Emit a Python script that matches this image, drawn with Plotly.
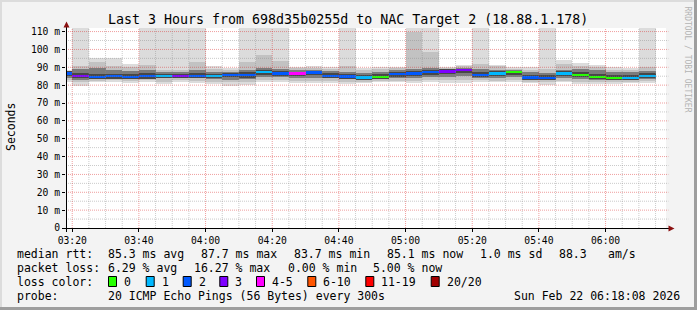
import plotly.graph_objects as go
import pandas as pd

# ---------------- data ----------------
col_ends = pd.date_range("2026-02-22 03:20", periods=36, freq="5min")
median = [86.5, 85.2, 84.5, 85.0, 84.5, 85.0, 85.2, 85.2, 85.2, 85.2, 85.8, 85.8,
          87.2, 86.5, 86.5, 87.0, 85.2, 84.8, 84.2, 84.7, 86.1, 86.5, 87.2, 87.7,
          88.4, 85.8, 86.6, 87.2, 84.3, 84.1, 86.5, 85.8, 84.7, 84.1, 84.1, 85.3]
loss = [2, 3, 2, 2, 2, 2, 1, 3, 2, 1, 2, 2, 1, 2, 4, 2, 2, 2, 1, 0, 2, 2, 2, 3,
        3, 2, 1, 0, 2, 2, 1, 0, 0, 0, 1, 1]
ping_min = [82.0, 79.5, 81.5, 82.0, 81.0, 81.5, 80.5, 81.5, 81.0, 80.5, 79.5, 80.0,
            81.5, 81.5, 81.0, 81.0, 81.0, 80.5, 81.0, 81.5, 81.5, 81.0, 81.5, 81.0,
            81.0, 82.0, 81.5, 82.0, 81.0, 80.0, 81.5, 80.5, 80.5, 80.5, 81.0, 81.0]
ping_max = [88.5, 115, 95.0, 95.0, 92.0, 115, 115, 115, 115, 90.8, 89.8, 115,
            115, 115, 90.4, 90.8, 90.0, 115, 89.5, 90.0, 90.4, 115, 115, 90.4,
            91.2, 115, 91.5, 90.0, 90.0, 115, 94.3, 92.5, 91.3, 90.2, 89.5, 115]
band2_lo = [83.0, 81.5, 82.5, 83.0, 82.5, 83.0, 82.0, 83.0, 82.5, 82.0, 81.5, 82.0,
            83.0, 83.0, 82.5, 82.5, 82.5, 82.0, 82.0, 82.5, 82.5, 82.5, 83.0, 83.0,
            83.0, 83.0, 82.5, 83.0, 82.0, 81.5, 82.5, 82.0, 82.0, 82.0, 82.0, 82.5]
band2_hi = [88.0, 91.0, 93.0, 91.0, 90.0, 91.3, 88.5, 88.5, 93.2, 89.0, 88.5, 93.2,
            96.9, 93.6, 89.5, 89.5, 89.0, 90.5, 88.5, 89.0, 89.5, 109.5, 98.8, 89.5,
            90.5, 91.8, 90.5, 89.0, 88.5, 89.0, 92.0, 91.0, 90.0, 88.5, 88.5, 90.0]
band3_lo = [84.0, 83.0, 83.5, 84.0, 83.5, 84.0, 84.0, 84.0, 84.0, 83.5, 83.0, 83.5,
            84.5, 84.5, 84.0, 84.0, 84.0, 83.5, 83.0, 83.5, 84.0, 84.0, 84.5, 84.5,
            85.0, 84.0, 84.0, 84.5, 83.0, 83.0, 84.0, 83.5, 83.0, 83.0, 83.0, 83.5]
band3_hi = [87.5, 89.0, 89.5, 88.5, 88.0, 88.5, 87.5, 87.5, 88.5, 87.5, 87.5, 88.5,
            89.5, 89.0, 88.5, 88.5, 88.0, 87.5, 87.0, 87.5, 88.5, 89.0, 89.5, 89.0,
            89.5, 89.0, 88.5, 88.5, 87.5, 87.0, 88.5, 89.0, 88.5, 87.5, 87.5, 88.0]
inner_lo = [85.0, 83.8, 83.2, 83.5, 83.2, 83.6, 84.0, 84.0, 83.8, 83.8, 84.3, 84.2,
            85.8, 85.0, 85.2, 85.6, 83.8, 83.4, 83.0, 83.4, 84.8, 85.0, 85.8, 86.2,
            87.0, 84.4, 85.2, 85.8, 83.0, 82.8, 85.0, 84.4, 83.4, 82.8, 82.8, 84.0]
inner_hi = [87.8, 86.8, 86.2, 86.5, 86.0, 86.6, 86.5, 86.4, 86.6, 86.4, 87.0, 87.2,
            88.4, 87.8, 87.6, 88.0, 86.6, 86.2, 85.6, 86.0, 87.4, 87.8, 88.4, 88.8,
            89.2, 87.2, 87.8, 88.2, 85.8, 85.6, 87.8, 87.4, 86.4, 85.8, 85.6, 86.6]

loss_labels = ["0", "1", "2", "3", "4-5", "6-10", "11-19", "20/20"]
loss_colors = ["#26ff00", "#00b8ff", "#0059ff", "#7e00ff", "#ff00ff", "#ff5500", "#ff0000", "#a10000"]
loss_upper = [0, 1, 2, 3, 5, 10, 19, 20]

y_ticks = [0, 10, 20, 30, 40, 50, 60, 70, 80, 90, 100, 110]
y_ticktext = ["0"] + [f"{v} m" for v in y_ticks[1:]]
x_ticktext = ["03:20", "03:40", "04:00", "04:20", "04:40", "05:00", "05:20", "05:40", "06:00"]

# ---------------- geometry helpers ----------------
L, R, T, B = 66, 31, 28, 82
W, H = 697, 310
PW, PH = W - L - R, H - T - B
FONT = "DejaVu Sans Mono"


def px(x):
    return (x - L) / PW


def py(y):
    return (H - B - y) / PH


centers = col_ends - pd.Timedelta(seconds=150)
WID = 300000

fig = go.Figure()


def band(lo, hi, color):
    fig.add_trace(go.Bar(x=centers, base=lo, y=[h - l for l, h in zip(lo, hi)],
                         width=WID, marker=dict(color=color, line=dict(width=0)),
                         hoverinfo="skip", showlegend=False))


band(ping_min, ping_max, "#dcdcdc")
band(band2_lo, band2_hi, "#c2c2c2")
band(band3_lo, band3_hi, "#7c7c7c")
band(inner_lo, inner_hi, "#474747")


def loss_color(n):
    for up, c in zip(loss_upper, loss_colors):
        if n <= up:
            return c
    return loss_colors[-1]


THK = 1.3
fig.add_trace(go.Bar(x=centers, base=[m - THK / 2 for m in median], y=[THK] * len(median),
                     width=WID, marker=dict(color=[loss_color(n) for n in loss], line=dict(width=0)),
                     hoverinfo="skip", showlegend=False))

x0 = pd.Timestamp("2026-02-22 03:18:08")
x1 = pd.Timestamp("2026-02-22 06:18:08")
x_tickvals = pd.date_range("2026-02-22 03:20", "2026-02-22 06:00", freq="20min")

shapes = []
# horizontal grid (above traces)
for v in range(5, 112, 5):
    major = v % 10 == 0
    shapes.append(dict(type="line", xref="paper", yref="y", x0=0, x1=1.004, y0=v, y1=v,
                       line=dict(color="rgba(220,40,40,0.45)" if major else "rgba(140,140,140,0.45)",
                                 width=1, dash="1px,1px"), layer="above"))
# vertical grid
for t in pd.date_range("2026-02-22 03:20", "2026-02-22 06:15", freq="5min"):
    major = t.minute % 20 == 0
    shapes.append(dict(type="line", xref="x", yref="paper", x0=t, x1=t, y0=0, y1=1,
                       line=dict(color="rgba(220,40,40,0.45)" if major else "rgba(140,140,140,0.45)",
                                 width=1, dash="1px,1px"), layer="above"))

# axis lines
shapes.append(dict(type="line", xref="paper", yref="paper", x0=px(62), x1=px(670), y0=py(228.5), y1=py(228.5),
                   line=dict(color="#000000", width=1), layer="above"))
shapes.append(dict(type="line", xref="paper", yref="paper", x0=px(66.5), x1=px(66.5), y0=py(232), y1=py(25),
                   line=dict(color="#000000", width=1), layer="above"))
# arrows
shapes.append(dict(type="path", xref="paper", yref="paper",
                   path=f"M {px(63.5)} {py(27.5)} L {px(69.5)} {py(27.5)} L {px(66.5)} {py(21.5)} Z",
                   fillcolor="#8b1010", line=dict(width=0), layer="above"))
shapes.append(dict(type="path", xref="paper", yref="paper",
                   path=f"M {px(668.5)} {py(225.5)} L {px(668.5)} {py(231.5)} L {px(674.5)} {py(228.5)} Z",
                   fillcolor="#8b1010", line=dict(width=0), layer="above"))
# frame
shapes.append(dict(type="rect", xref="paper", yref="paper", x0=px(0), x1=px(697), y0=py(0), y1=py(2),
                   fillcolor="#dcdcdc", line=dict(width=0), layer="below"))
shapes.append(dict(type="rect", xref="paper", yref="paper", x0=px(0), x1=px(2), y0=py(0), y1=py(310),
                   fillcolor="#dcdcdc", line=dict(width=0), layer="below"))
shapes.append(dict(type="rect", xref="paper", yref="paper", x0=px(0), x1=px(697), y0=py(307), y1=py(310),
                   fillcolor="#9e9e9e", line=dict(width=0), layer="below"))
shapes.append(dict(type="rect", xref="paper", yref="paper", x0=px(694), x1=px(697), y0=py(0), y1=py(310),
                   fillcolor="#9e9e9e", line=dict(width=0), layer="below"))

annotations = []


def text(s, x, y, size=11.5, xanchor="left", color="#000000", angle=0):
    annotations.append(dict(text=s, xref="paper", yref="paper", x=px(x), y=py(y), xanchor=xanchor,
                            yanchor="middle", showarrow=False, borderpad=0, textangle=angle,
                            font=dict(family=FONT, size=size, color=color)))


text("Last 3 Hours from 698d35b0255d to NAC Target 2 (18.88.1.178)", 348, 19, size=13.3, xanchor="center")
text("Seconds", 10.5, 127.5, size=11.5, xanchor="center", angle=-90)
text("RRDTOOL / TOBI OETIKER", 687.5, 59, size=8, xanchor="center", color="#b4b4b4", angle=90)

# legend rows
text("median rtt:", 16, 254)
for s, x in [("85.3 ms avg", 107.3), ("87.7 ms max", 200), ("83.7 ms min", 293.3),
             ("85.1 ms now", 386), ("1.0 ms sd", 479), ("88.3", 558.3), ("am/s", 606.7)]:
    text(s, x, 254)
text("packet loss:", 16, 268)
for s, x in [("6.29 % avg", 107.3), ("16.27 % max", 193.3), ("0.00 % min", 286.7), ("5.00 % now", 372.3)]:
    text(s, x, 268)
text("loss color:", 16, 282)
box_x = [108, 145.7, 182.7, 219.3, 256, 307.3, 365.3, 430.7]
for lab, col, bx in zip(loss_labels, loss_colors, box_x):
    shapes.append(dict(type="rect", xref="paper", yref="paper", x0=px(bx + 0.5), x1=px(bx + 8.5),
                       y0=py(276.5), y1=py(286.5), fillcolor=col, line=dict(color="#000000", width=1),
                       layer="above"))
    text(lab, bx + 15, 282)
text("probe:", 16, 296)
text("20 ICMP Echo Pings (56 Bytes) every 300s", 107.3, 296)
text("Sun Feb 22 06:18:08 2026", 513.3, 296)

fig.update_layout(
    width=W, height=H, margin=dict(l=L, r=R, t=T, b=B, pad=0),
    paper_bgcolor="#f3f3f3", plot_bgcolor="#ffffff",
    barmode="overlay", bargap=0, showlegend=False,
    shapes=shapes, annotations=annotations,
    xaxis=dict(type="date", range=[x0, x1], tickvals=list(x_tickvals), ticktext=x_ticktext,
               showgrid=False, zeroline=False, showline=False, ticks="outside", ticklen=3,
               tickcolor="#000000", tickfont=dict(family=FONT, size=9.7, color="#000000")),
    yaxis=dict(range=[0, 112], tickvals=y_ticks, ticktext=y_ticktext, showgrid=False,
               zeroline=False, showline=False, ticks="outside", ticklen=3, tickcolor="#000000",
               tickfont=dict(family=FONT, size=9.7, color="#000000")),
)

fig.write_html("out.html")
